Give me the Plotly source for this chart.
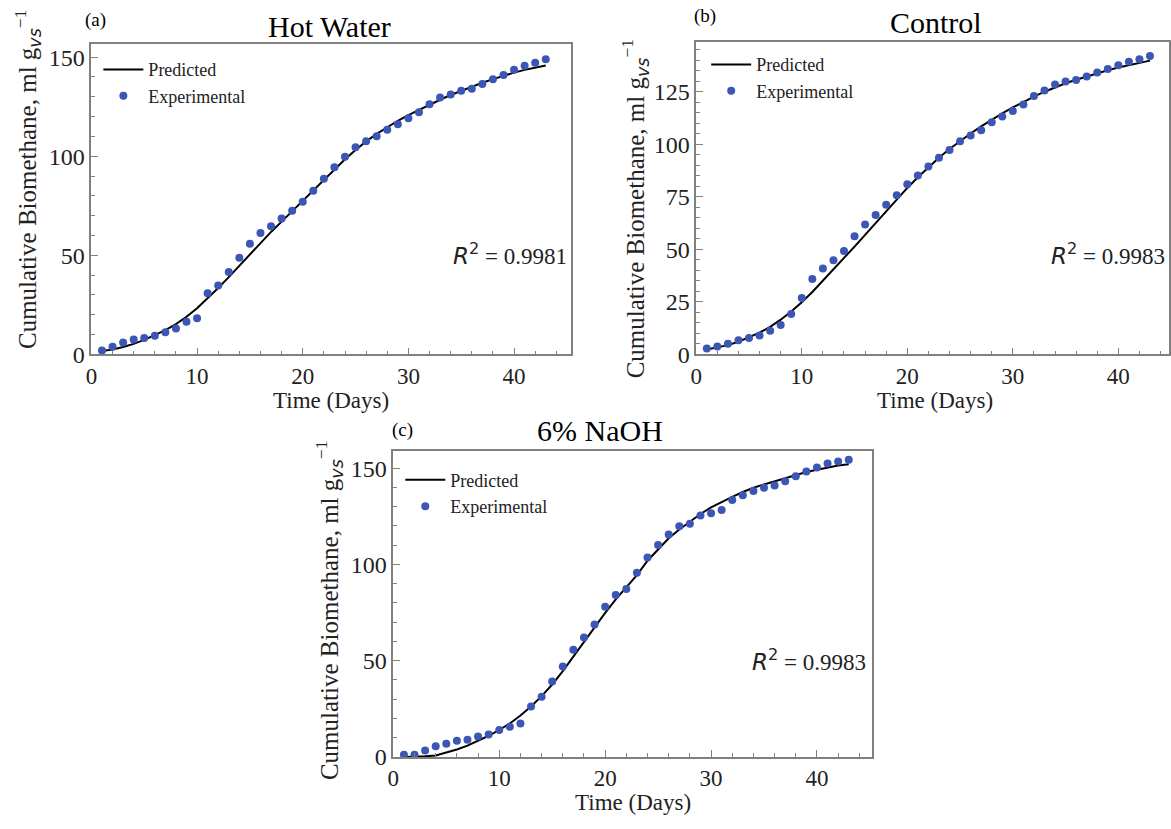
import plotly.graph_objects as go

days = list(range(1, 44))

hot_water_exp = [2.0, 3.8, 6.0, 7.5, 8.3, 9.4, 11.1, 13.1, 16.5, 18.2, 30.8, 34.8, 41.6, 48.7, 55.8,
                 61.3, 64.6, 68.6, 72.5, 77.0, 82.6, 88.6, 94.4, 99.7, 104.5, 107.6, 110.1, 113.4,
                 116.2, 119.2, 122.2, 126.2, 129.7, 131.1, 133.0, 134.1, 136.5, 138.8, 141.0, 143.6,
                 145.7, 147.2, 149.0]
hot_water_pred = [1.7, 2.5, 3.7, 5.3, 7.3, 9.6, 12.2, 15.3, 19.0, 23.3, 28.2, 33.5, 39.0, 44.8, 50.7,
                  56.4, 61.8, 67.0, 72.2, 77.4, 82.8, 88.2, 93.5, 98.5, 103.2, 107.5, 111.3, 114.8,
                  117.9, 120.7, 123.4, 126.0, 128.5, 130.9, 133.1, 135.2, 137.1, 138.9, 140.6, 142.2,
                  143.6, 144.8, 145.8]

control_exp = [2.8, 3.7, 5.0, 6.7, 7.8, 9.0, 11.2, 14.0, 19.2, 26.8, 35.9, 40.9, 44.8, 49.2, 56.2,
               61.8, 66.3, 71.2, 75.7, 80.9, 85.1, 89.4, 93.6, 97.2, 101.4, 104.1, 106.6, 110.5,
               113.2, 115.8, 118.9, 123.0, 125.6, 128.4, 129.8, 130.6, 132.2, 134.2, 135.8, 137.6,
               139.2, 140.4, 142.0]
control_pred = [2.3, 3.2, 4.4, 6.0, 8.0, 10.3, 13.1, 16.5, 20.4, 24.8, 29.7, 35.0, 40.5, 46.0, 51.3,
                56.9, 62.5, 68.2, 73.8, 79.2, 84.3, 89.1, 93.6, 97.7, 101.5, 105.1, 108.5, 111.7,
                114.7, 117.5, 120.2, 122.7, 125.0, 127.1, 129.0, 130.7, 132.3, 133.8, 135.2, 136.5,
                137.7, 138.8, 139.8]

naoh_exp = [1.2, 1.2, 3.4, 5.6, 6.8, 8.4, 8.9, 10.6, 11.6, 14.0, 15.7, 17.4, 26.2, 31.3, 39.2,
            47.0, 55.7, 62.0, 68.8, 78.0, 84.1, 87.2, 95.7, 103.6, 110.1, 115.5, 119.8, 121.1,
            125.4, 126.6, 128.3, 133.4, 135.9, 138.1, 139.8, 141.0, 143.2, 145.8, 148.2, 150.4,
            152.4, 153.4, 154.3]
naoh_pred = [0.0, 0.1, 0.3, 0.8, 2.2, 3.9, 5.9, 8.4, 11.0, 14.0, 17.4, 21.5, 26.2, 31.6, 37.6,
             44.6, 52.2, 59.9, 67.4, 74.8, 81.8, 88.3, 94.4, 101.9, 107.9, 113.6, 118.1, 122.3,
             126.2, 129.6, 132.5, 135.1, 137.6, 139.8, 141.5, 143.2, 144.9, 146.4, 148.0, 149.2,
             150.4, 151.4, 152.0]

panel_titles = ["Hot Water", "Control", "6% NaOH"]
panel_tags = ["(a)", "(b)", "(c)"]
r2_values = ["0.9981", "0.9983", "0.9983"]

W, H = 1171, 829
SERIF = "Liberation Serif, Times New Roman, serif"
BLUE = "#3c56b5"
FRAME = "#808080"


def px(x):
    return x / W


def py(y):
    return 1 - y / H


fig = go.Figure()

panels = [
    dict(exp=hot_water_exp, pred=hot_water_pred, xs="x", ys="y", leg="legend"),
    dict(exp=control_exp, pred=control_pred, xs="x2", ys="y2", leg="legend2"),
    dict(exp=naoh_exp, pred=naoh_pred, xs="x3", ys="y3", leg="legend3"),
]

for p in panels:
    fig.add_trace(go.Scatter(x=days, y=p["pred"], mode="lines", name="Predicted",
                             line=dict(color="black", width=2), xaxis=p["xs"], yaxis=p["ys"],
                             legend=p["leg"]))
    fig.add_trace(go.Scatter(x=days, y=p["exp"], mode="markers", name="Experimental",
                             marker=dict(color=BLUE, size=8), xaxis=p["xs"], yaxis=p["ys"],
                             legend=p["leg"]))

# pixel boxes of the three frames (left, right, top, bottom)
boxes = [(86, 569, 45, 360), (695, 1171, 43, 360), (390, 872, 458, 769)]
xranges = [[0, 45.4], [0, 44.8], [0, 45.2]]
yranges = [[0, 156.5], [0, 148.5], [0, 159.0]]
ydticks = [50, 25, 50]
yminor = [10, 5, 10]

axis_common = dict(showline=True, linecolor=FRAME, linewidth=1.5, mirror=True,
                   ticks="inside", ticklen=7, tickwidth=1.2, tickcolor=FRAME,
                   showgrid=False, zeroline=False,
                   tickfont=dict(family=SERIF, size=24, color="#222"))

for i, (l, r, t, b) in enumerate(boxes):
    sx = "" if i == 0 else str(i + 1)
    fig.update_layout({
        f"xaxis{sx}": dict(axis_common, domain=[px(l), min(px(r), 1.0)], range=xranges[i],
                           dtick=10, tick0=0, anchor=f"y{sx}",
                           tickfont=dict(family=SERIF, size=23, color="#222"),
                           minor=dict(dtick=2, ticks="inside", ticklen=4, tickcolor=FRAME)),
        f"yaxis{sx}": dict(axis_common, domain=[py(b), py(t)], range=yranges[i],
                           dtick=ydticks[i], tick0=0, anchor=f"x{sx}",
                           minor=dict(dtick=yminor[i], ticks="inside", ticklen=4, tickcolor=FRAME)),
    })

leg_common = dict(xanchor="left", yanchor="top", bgcolor="rgba(0,0,0,0)",
                  font=dict(family=SERIF, size=18, color="#222"), itemwidth=40,
                  tracegroupgap=0)
fig.update_layout(
    legend=dict(leg_common, x=px(93), y=py(52)),
    legend2=dict(leg_common, x=px(705), y=py(47)),
    legend3=dict(leg_common, x=px(397), y=py(469)),
)

ann = []
title_pos = [(326, 27), (936, 23), (598, 437)]
tag_pos = [(90, 20), (704, 16), (399, 437)]
for i in range(3):
    ann.append(dict(text=panel_titles[i], x=px(title_pos[i][0]), y=py(title_pos[i][1]),
                    xref="paper", yref="paper", showarrow=False, xanchor="center", yanchor="middle",
                    font=dict(family=SERIF, size=30, color="black")))
    ann.append(dict(text=panel_tags[i], x=px(tag_pos[i][0]), y=py(tag_pos[i][1]),
                    xref="paper", yref="paper", showarrow=False, xanchor="center", yanchor="middle",
                    font=dict(family=SERIF, size=19, color="black")))

# x-axis titles
xt_pos = [(327, 407), (935, 407), (631, 815)]
for (x, y) in xt_pos:
    ann.append(dict(text="Time (Days)", x=px(x), y=py(y), xref="paper", yref="paper",
                    showarrow=False, xanchor="center", yanchor="middle",
                    font=dict(family=SERIF, size=23, color="#222")))

# y-axis titles
ylabel = ("Cumulative Biomethane, ml g<sub><span style='font-family:DejaVu Sans'><i>vs</i></span></sub>"
          "<sup>−1</sup>")
yt_pos = [(22, 182), (633, 212), (326, 620)]
for (x, y) in yt_pos:
    ann.append(dict(text=ylabel, x=px(x), y=py(y), xref="paper", yref="paper", textangle=-90,
                    showarrow=False, xanchor="center", yanchor="middle",
                    font=dict(family=SERIF, size=25, color="#222")))

# R^2 labels
r2_pos = [(567, 258), (1169, 258), (868, 671)]
for i, (x, y) in enumerate(r2_pos):
    ann.append(dict(text=("<span style='font-family:DejaVu Sans'><i>R</i><sup>2</sup></span>"
                          f" = {r2_values[i]}"),
                    x=px(x), y=py(y), xref="paper", yref="paper", showarrow=False,
                    xanchor="right", yanchor="middle",
                    font=dict(family=SERIF, size=23, color="#222")))

fig.update_layout(
    width=W, height=H, margin=dict(l=0, r=0, t=0, b=0),
    paper_bgcolor="white", plot_bgcolor="white",
    annotations=ann, showlegend=True,
)

fig.write_html("out.html", config={"displayModeBar": False},
               post_script="document.body.style.margin='0px';document.body.style.padding='0px';")
